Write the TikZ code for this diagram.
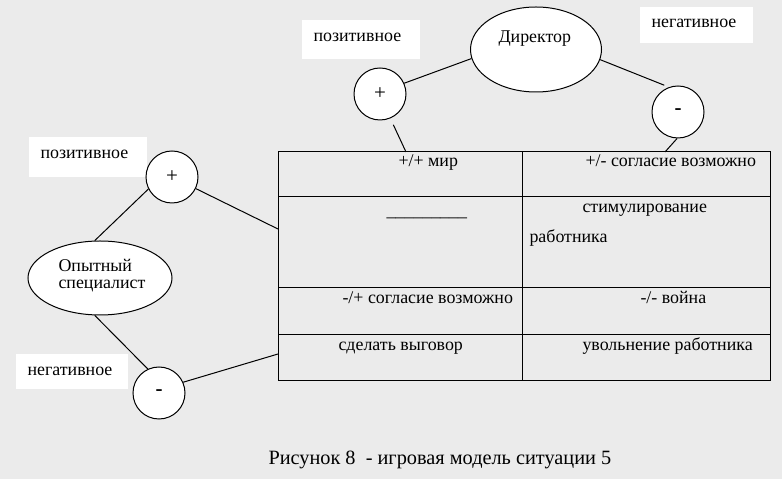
\documentclass[tikz,border=0pt]{standalone}
\usepackage{fontspec}
\setmainfont{Liberation Serif}
\usetikzlibrary{shapes.geometric}
\definecolor{bg}{RGB}{235,235,235}
\tikzset{
  txt/.style={inner sep=0pt, anchor=base west, font=\fontsize{17.9}{20}\selectfont},
  pm/.style={circle, draw, fill=white, minimum size=52pt, inner sep=0pt, font=\fontsize{21}{22}\selectfont},
  oval/.style={ellipse, draw, fill=white, inner sep=0pt},
  lab/.style={fill=white, inner sep=0pt},
}
\begin{document}
\begin{tikzpicture}[x=1pt,y=1pt, line width=1pt]
\useasboundingbox[fill=bg] (0,0) rectangle (782,479);
% white label boxes
\node[lab, minimum width=118pt, minimum height=39pt] (lbtp) at (361,439.5) {};
\node[lab, minimum width=113pt, minimum height=36pt] (lbtn) at (696.5,454) {};
\node[lab, minimum width=118pt, minimum height=40pt] (lblp) at (88,322) {};
\node[lab, minimum width=112pt, minimum height=35pt] (lbln) at (72,107.5) {};
\node[txt] (tp) at (313,437) {позитивное};
\node[txt] (tn) at (651,451) {негативное};
\node[txt] (lp) at (40,320) {позитивное};
\node[txt] (ln) at (27,103) {негативное};
% table
\node[draw, minimum width=492pt, minimum height=229pt, inner sep=0pt] (tbl) at (524,212.5) {};
\coordinate (r1w) at (278,282); \coordinate (r1e) at (770,282);
\coordinate (r2w) at (278,191); \coordinate (r2e) at (770,191);
\coordinate (r3w) at (278,144); \coordinate (r3e) at (770,144);
\coordinate (cn) at (522,327); \coordinate (cs) at (522,98);
\draw (r1w) -- (r1e); \draw (r2w) -- (r2e); \draw (r3w) -- (r3e); \draw (cn) -- (cs);
\node[txt] (c11) at (398,312) {+/+ мир};
\node[txt] (c12) at (585,312) {+/- согласие возможно};
\node[txt] (c21) at (386,262) {\_\_\_\_\_\_\_\_\_};
\node[txt] (c22a) at (582,266) {стимулирование};
\node[txt] (c22b) at (529,236) {работника};
\node[txt] (c31) at (342,175) {-/+ согласие возможно};
\node[txt] (c32) at (640,175) {-/- война};
\node[txt] (c41) at (338,128) {сделать выговор};
\node[txt] (c42) at (582,128) {увольнение работника};
% actors
\node[oval, minimum width=131pt, minimum height=85pt] (dir) at (536,429.5) {};
\node[txt] (dirt) at (498,436) {Директор};
\node[oval, minimum width=144pt, minimum height=74pt] (spec) at (100,201) {};
\node[txt] (spect1) at (58,207) {Опытный};
\node[txt] (spect2) at (58,190) {специалист};
% plus / minus circles
\node[pm] (pT) at (380,385) {+};
\node[pm] (mT) at (678,367) {\textbf{-}};
\node[pm] (pL) at (172,302) {+};
\node[pm] (mL) at (159,86) {\textbf{-}};
% connectors
\coordinate (t1) at (406,327);
\coordinate (t2) at (665,327);
\coordinate (t3) at (278,250);
\coordinate (t4) at (278,125);
\draw (dir.188.7) -- (pT.24);
\draw[shorten >=5pt] (dir.-9.5) -- (mT.110.8);
\draw[shorten <=7pt] (pT.-67) -- (t1);
\draw (mT.-92) -- (t2);
\draw (spec.98) -- (pL.207.5);
\draw (pL.-26.6) -- (t3);
\draw (spec.262.7) -- (mL.115.6);
\draw (mL.24.8) -- (t4);
% caption
\node[txt, font=\fontsize{20.3}{22}\selectfont] (cap) at (268,14) {Рисунок 8\ \ - игровая модель ситуации 5};
\end{tikzpicture}
\end{document}
